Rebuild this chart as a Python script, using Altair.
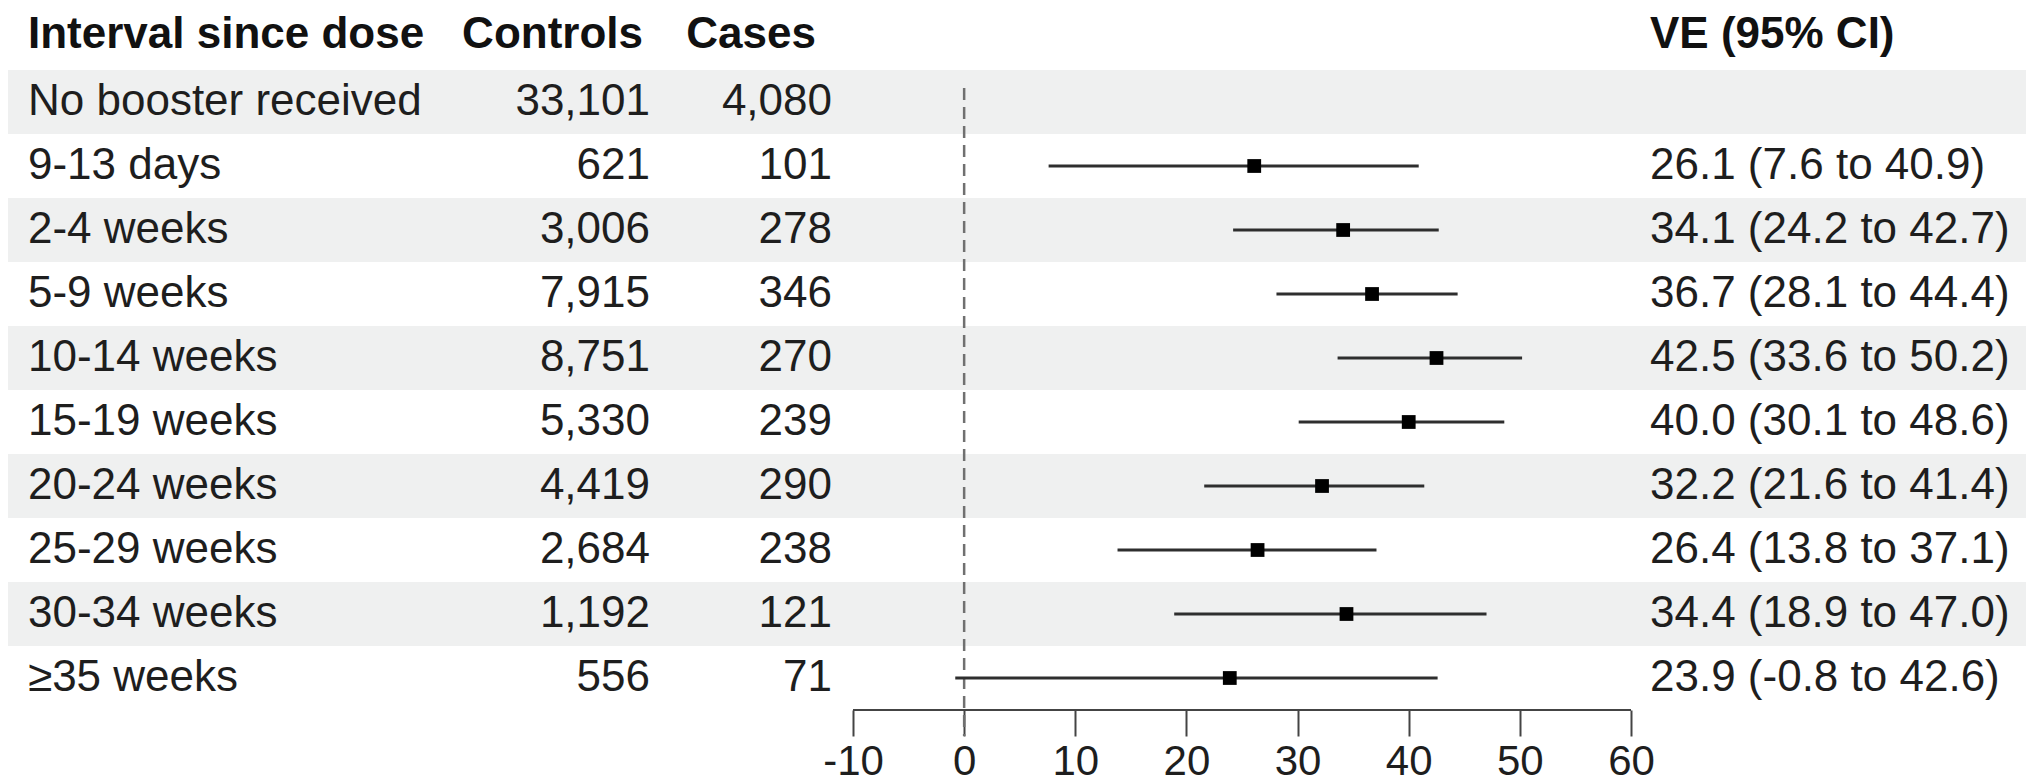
import altair as alt
import pandas as pd

# ---- data ----
labels = ["No booster received", "9-13 days", "2-4 weeks", "5-9 weeks", "10-14 weeks",
          "15-19 weeks", "20-24 weeks", "25-29 weeks", "30-34 weeks", "≥35 weeks"]
controls = [33101, 621, 3006, 7915, 8751, 5330, 4419, 2684, 1192, 556]
cases = [4080, 101, 278, 346, 270, 239, 290, 238, 121, 71]
ve = [None, 26.1, 34.1, 36.7, 42.5, 40.0, 32.2, 26.4, 34.4, 23.9]
ve_lo = [None, 7.6, 24.2, 28.1, 33.6, 30.1, 21.6, 13.8, 18.9, -0.8]
ve_hi = [None, 40.9, 42.7, 44.4, 50.2, 48.6, 41.4, 37.1, 47.0, 42.6]
tick_values = [-10, 0, 10, 20, 30, 40, 50, 60]
headers = ["Interval since dose", "Controls", "Cases", "VE (95% CI)"]

rows = pd.DataFrame({
    "label": labels,
    "controls": controls,
    "cases": cases,
    "ve": ve,
    "lo": ve_lo,
    "hi": ve_hi,
    "stripe": [i % 2 == 0 for i in range(len(labels))],
})
rows["ve_text"] = [
    "" if v is None or pd.isna(v) else f"{v:.1f} ({l:.1f} to {h:.1f})"
    for v, l, h in zip(ve, ve_lo, ve_hi)
]
est = rows.dropna(subset=["ve"])
axis_df = pd.DataFrame({"a": [min(tick_values)], "b": [max(tick_values)]})
zero_df = pd.DataFrame({"z": [0]})

FONT = "Liberation Sans"
FS = 44
TXT = "#1e1e1e"
W, H = 2018, 702

xscale = alt.Scale(domain=[-86.03, 95.54], nice=False, zero=False)
yscale = alt.Scale(domain=labels, range=[62, 702], paddingInner=0, paddingOuter=0)

base = alt.Chart(rows)

stripes = base.transform_filter("datum.stripe").mark_rect(color="#eff0f0").encode(
    x=alt.value(0), x2=alt.value(W),
    y=alt.Y("label:N", scale=yscale, axis=None),
)

def col_text(field, xpx, align, fmt=None):
    t = alt.Text(field, format=fmt) if fmt else alt.Text(field)
    return base.mark_text(align=align, baseline="middle", font=FONT, fontSize=FS,
                          color=TXT).encode(
        x=alt.value(xpx), y=alt.Y("label:N", scale=yscale, axis=None), text=t)

lab_txt = col_text("label:N", 20, "left")
ctl_txt = col_text("controls:Q", 642, "right", ",d")
cas_txt = col_text("cases:Q", 824, "right", ",d")
ve_txt = col_text("ve_text:N", 1642, "left")

def head(i, xpx, align):
    return alt.Chart(pd.DataFrame({"h": [headers[i]]})).mark_text(
        align=align, baseline="middle", font=FONT, fontSize=FS, fontWeight="bold",
        color="#111111").encode(x=alt.value(xpx), y=alt.value(27), text="h:N")

hdrs = head(0, 20, "left") + head(1, 635, "right") + head(2, 808, "right") + head(3, 1642, "left")

zero_line = alt.Chart(zero_df).mark_rule(color="#707070", strokeWidth=2.5,
                                         strokeDash=[12, 7]).encode(
    x=alt.X("z:Q", scale=xscale), y=alt.value(80), y2=alt.value(H + 26))

ci = alt.Chart(est).mark_rule(color="#2e2e2e", strokeWidth=3.2).encode(
    x=alt.X("lo:Q", scale=xscale), x2="hi:Q",
    y=alt.Y("label:N", scale=yscale, axis=None))

pts = alt.Chart(est).mark_square(color="#000000", size=190, opacity=1).encode(
    x=alt.X("ve:Q", scale=xscale,
            axis=alt.Axis(values=tick_values, domain=False, grid=False, ticks=True,
                          tickSize=26, tickWidth=2, tickColor="#444444",
                          labelFont=FONT, labelFontSize=42, labelColor=TXT,
                          labelPadding=5, title=None, labelFlush=False,
                          labelOverlap=False, labelExpr="'' + datum.value")),
    y=alt.Y("label:N", scale=yscale, axis=None))

axis_line = alt.Chart(axis_df).mark_rule(color="#444444", strokeWidth=2).encode(
    x=alt.X("a:Q", scale=xscale), x2="b:Q", y=alt.value(H))

chart = alt.layer(stripes, zero_line, ci, pts, axis_line, lab_txt, ctl_txt, cas_txt,
                  ve_txt, hdrs).properties(
    width=W, height=H, padding=0, background="white"
).configure_view(stroke=None)

chart.save("out.html", embed_options={"renderer": "svg", "actions": False})
